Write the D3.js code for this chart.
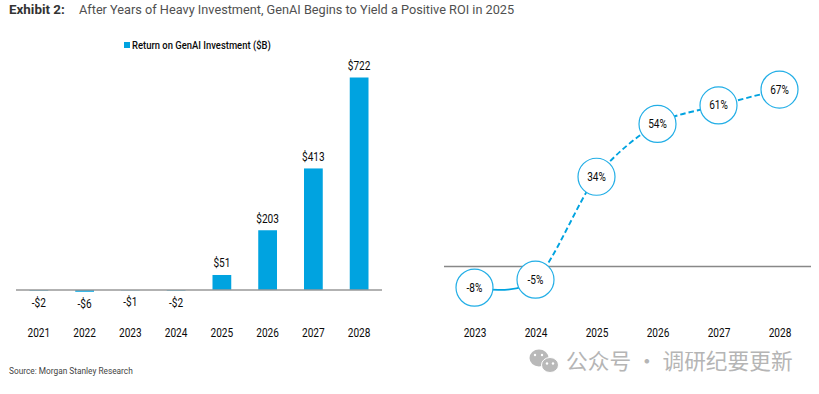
<!DOCTYPE html>
<html>
<head>
<meta charset="utf-8">
<script src="https://cdn.jsdelivr.net/npm/d3@7"></script>
<style>
  html, body { margin: 0; background: #fff; }
  svg { display: block; }
  text { font-family: Roboto, sans-serif; fill: #0a0a0a; }
  .head { font-size: 12.72px; fill: #505050; }
  .axis text { font-size: 12px; }
  .axis path, .axis line { display: none; }
</style>
</head>
<body>
<svg id="chart" width="819" height="394"></svg>
<script>
const barYears = ['2021', '2022', '2023', '2024', '2025', '2026', '2027', '2028']
const barValues = [-2, -6, -1, -2, 51, 203, 413, 722]
const barLabels = ['-$2', '-$6', '-$1', '-$2', '$51', '$203', '$413', '$722']

const roiYears = ['2023', '2024', '2025', '2026', '2027', '2028']
const roiValues = [-8, -5, 34, 54, 61, 67]
const roiLabels = ['-8%', '-5%', '34%', '54%', '61%', '67%']

const blue = '#00a3e0'
const narrow = 0.84 // the labels are set in a condensed face, none is installed
const svg = d3.select('#chart')

svg.append('text').attr('class', 'head').attr('x', 9).attr('y', 14)
  .style('font-weight', 700).style('font-size', '13.4px').style('fill', '#333').text('Exhibit 2:')
svg.append('text').attr('class', 'head').attr('x', 79).attr('y', 14)
  .text('After Years of Heavy Investment, GenAI Begins to Yield a Positive ROI in 2025')

// left panel: bars
const xBar = d3.scaleBand().domain(barYears).range([16, 382]).paddingInner(0.59).paddingOuter(0.295)
const yBar = d3.scaleLinear().domain([0, 722]).range([290, 77.5])
const barMid = i => xBar(barYears[i]) + xBar.bandwidth() / 2

svg.append('rect').attr('x', 124).attr('y', 42).attr('width', 6).attr('height', 6).attr('fill', blue)
svg.append('text').attr('transform', `translate(132,49) scale(${narrow},1)`)
  .style('font-size', '11.25px').style('font-weight', 500)
  .text('Return on GenAI Investment ($B)')

svg.append('g').selectAll('rect').data(barValues).join('rect')
  .attr('x', (d, i) => xBar(barYears[i]))
  .attr('width', xBar.bandwidth())
  .attr('y', d => yBar(Math.max(d, 0)))
  .attr('height', d => Math.abs(yBar(d) - yBar(0)))
  .attr('fill', blue)

svg.append('line').attr('x1', 16).attr('x2', 382).attr('y1', yBar(0)).attr('y2', yBar(0))
  .attr('stroke', '#999').attr('stroke-width', 1.6)

svg.append('g').selectAll('text').data(barValues).join('text')
  .attr('transform', (d, i) => `translate(${barMid(i)},${d < 0 ? yBar(d) + 16 : yBar(d) - 7.5}) scale(${narrow},1)`)
  .attr('text-anchor', 'middle')
  .style('font-size', '12px')
  .text((d, i) => barLabels[i])

svg.append('g').attr('class', 'axis').attr('transform', 'translate(0,325)')
  .call(d3.axisBottom(xBar).tickSize(0))
  .selectAll('text').attr('transform', `scale(${narrow},1)`)

svg.append('text').attr('x', 9).attr('y', 374)
  .style('font-size', '8.3px').style('fill', '#444').text('Source: Morgan Stanley Research')

// right panel: ROI line
const xRoi = d3.scalePoint().domain(roiYears).range([474.5, 779.5])
const yRoi = d3.scaleLinear().domain([0, 67]).range([266.5, 89.6])

svg.append('line').attr('x1', 444).attr('x2', 811).attr('y1', yRoi(0)).attr('y2', yRoi(0))
  .attr('stroke', '#888').attr('stroke-width', 1.3)

const line = d3.line()
  .x((d, i) => xRoi(roiYears[i]))
  .y(d => yRoi(d))
  .curve(d3.curveCardinal.tension(0.1))

// same curve twice: solid up to 2024, dashed after it
const split = xRoi('2024')
const defs = svg.append('defs')
defs.append('clipPath').attr('id', 'clip-solid').append('rect')
  .attr('x', 440).attr('y', 0).attr('width', split - 440).attr('height', 394)
defs.append('clipPath').attr('id', 'clip-dash').append('rect')
  .attr('x', split).attr('y', 0).attr('width', 819 - split).attr('height', 394)

svg.append('path').datum(roiValues).attr('d', line).attr('fill', 'none')
  .attr('stroke', blue).attr('stroke-width', 1.8).attr('clip-path', 'url(#clip-solid)')
svg.append('path').datum(roiValues).attr('d', line).attr('fill', 'none')
  .attr('stroke', blue).attr('stroke-width', 1.9).attr('stroke-dasharray', '5.5 3')
  .attr('clip-path', 'url(#clip-dash)')

const node = svg.append('g').selectAll('g').data(roiValues).join('g')
  .attr('transform', (d, i) => `translate(${xRoi(roiYears[i])},${yRoi(d)})`)
node.append('circle').attr('r', 18.5).attr('fill', '#fff').attr('stroke', '#22aee6').attr('stroke-width', 1.2)
node.append('text').attr('text-anchor', 'middle').attr('transform', `translate(0,4) scale(${narrow},1)`)
  .style('font-size', '12px')
  .text((d, i) => roiLabels[i])

svg.append('g').attr('class', 'axis').attr('transform', 'translate(0,325)')
  .call(d3.axisBottom(xRoi).tickSize(0))
  .selectAll('text').attr('transform', `scale(${narrow},1)`)

// watermark
const mark = svg.append('g').attr('fill', '#b9b9b9')
mark.append('ellipse').attr('cx', 539).attr('cy', 358).attr('rx', 9.5).attr('ry', 8.5)
mark.append('ellipse').attr('cx', 550).attr('cy', 365).attr('rx', 8.5).attr('ry', 7.5).attr('stroke', '#fff').attr('stroke-width', 1)
mark.append('g').attr('fill', '#fff').selectAll('circle').data([[535, 355], [542, 355], [547, 363.5], [553, 363.5]]).join('circle')
  .attr('cx', d => d[0]).attr('cy', d => d[1]).attr('r', 1.2)
mark.append('text').attr('x', 566).attr('y', 369)
  .style('font-family', '"Noto Sans CJK SC", sans-serif').style('font-size', '21.7px').style('fill', '#b5b5b5')
  .text('公众号 · 调研纪要更新')
</script>
</body>
</html>
